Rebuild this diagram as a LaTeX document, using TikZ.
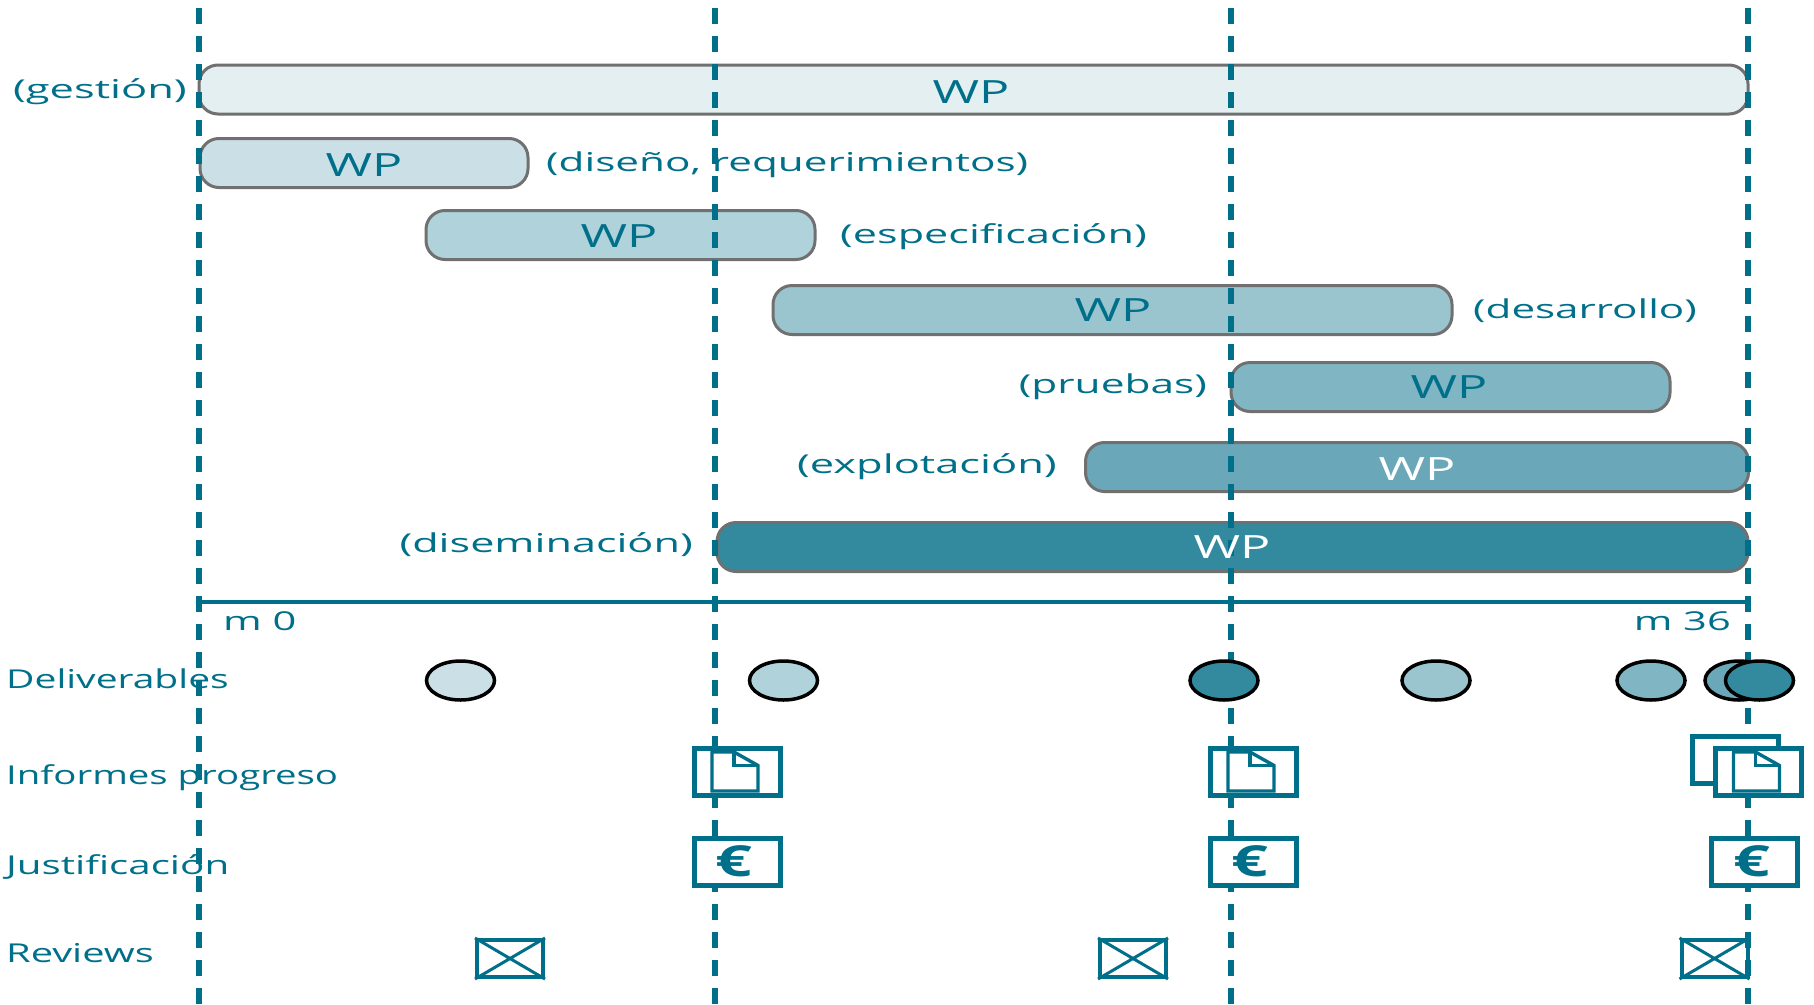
\documentclass[tikz,border=0pt]{standalone}
\usepackage{graphicx}
\usepackage{fontspec}
\usetikzlibrary{shapes.geometric}
\setmainfont{Open Sans}
\definecolor{teal1}{HTML}{00708A}
\definecolor{edgegray}{HTML}{707070}
\definecolor{barA}{HTML}{E3EFF1}
\definecolor{barB}{HTML}{CBE0E6}
\definecolor{barC}{HTML}{B0D2DA}
\definecolor{barD}{HTML}{9AC4CE}
\definecolor{barE}{HTML}{80B6C3}
\definecolor{barF}{HTML}{6AA8B9}
\definecolor{barG}{HTML}{338A9F}
\newcommand\wide[2][1.5]{\scalebox{#1}[1]{#2}}
\newcommand\wider[2][1.64]{\scalebox{#1}[1]{#2}}
\newcommand\widest[1]{\scalebox{1.57}[1]{#1}}
\tikzset{
  bar/.style={draw=edgegray,line width=3pt,rounded corners=19pt,inner sep=0pt,
    minimum height=49pt},
  wptext/.style={text=teal1,font=\fontsize{32}{32}\selectfont,inner sep=0pt},
  lab/.style={text=teal1,font=\fontsize{26}{26}\selectfont,inner sep=0pt},
  phase/.style={draw=teal1,line width=6pt,dash pattern=on 16pt off 12pt},
  deliv/.style={ellipse,draw=black,line width=3.5pt,minimum width=68pt,minimum height=39pt,inner sep=0pt},
  framebox/.style={draw=teal1,line width=5pt,fill=white,minimum width=86pt,minimum height=47pt,inner sep=0pt},
  revbox/.style={draw=teal1,line width=4pt,minimum width=66pt,minimum height=37pt,inner sep=0pt},
  docline/.style={draw=teal1,line width=3.4pt,line join=miter},
}
\newcommand\docicon[1]{%
  \draw[docline,fill=white] ([shift={(-25,19.5)}]#1.center) -- ([shift={(-25,-19.5)}]#1.center)
    -- ([shift={(-3,-19.5)}]#1.center) -- ([shift={(21,-6)}]#1.center)
    -- ([shift={(21,19.5)}]#1.center) -- cycle;
  \draw[docline] ([shift={(-3,-19.5)}]#1.center) -- ([shift={(-3,-6)}]#1.center)
    -- ([shift={(21,-6)}]#1.center);
}
\newcommand\crossicon[1]{%
  \draw[draw=teal1,line width=3pt] (#1.north west) -- (#1.south east) (#1.north east) -- (#1.south west);
}
\newcommand\euromark{\hspace*{-6pt}\scalebox{1.5}[1]{\fontsize{43}{43}\selectfont\bfseries\color{teal1}€}}
\begin{document}
\begin{tikzpicture}[x=1pt,y=-1pt]
\useasboundingbox[fill=white] (0,0) rectangle (1814,1004);
% bars
\node[bar,fill=barA,minimum width=1549pt] (b1) at (973.5,89.5) {};
\node[bar,fill=barB,minimum width=328pt] (b2) at (364,163) {};
\node[bar,fill=barC,minimum width=389pt] (b3) at (620.5,235) {};
\node[bar,fill=barD,minimum width=679pt] (b4) at (1112.5,310) {};
\node[bar,fill=barE,minimum width=439pt] (b5) at (1450.5,387) {};
\node[bar,fill=barF,minimum width=663pt] (b6) at (1417,467) {};
\node[bar,fill=barG,minimum width=1031pt] (b7) at (1232.5,547) {};
% axis
\coordinate (axL) at (199,601.5);
\coordinate (axR) at (1748,601.5);
\draw[teal1,line width=4pt] (axL) -- (axR);
% phase lines
\coordinate (p1t) at (199,8); \coordinate (p1b) at (199,1004);
\coordinate (p2t) at (715,8); \coordinate (p2b) at (715,1004);
\coordinate (p3t) at (1231,8); \coordinate (p3b) at (1231,1004);
\coordinate (p4t) at (1748,8); \coordinate (p4b) at (1748,1004);
\draw[phase] (p1t) -- (p1b);
\draw[phase] (p2t) -- (p2b);
\draw[phase] (p3t) -- (p3b);
\draw[phase] (p4t) -- (p4b);
% WP labels
\node[wptext] (w1) at (971,92) {\widest{WP}};
\node[wptext] (w2) at (364,165) {\widest{WP}};
\node[wptext] (w3) at (619,236) {\widest{WP}};
\node[wptext] (w4) at (1113,310) {\widest{WP}};
\node[wptext] (w5) at (1449,387) {\widest{WP}};
\node[wptext,text=white] (w6) at (1417,469) {\widest{WP}};
\node[wptext,text=white] (w7) at (1232,547) {\widest{WP}};
% bar captions
\node[lab,anchor=east] (c1) at (187,92) {\wider[1.67]{(gestión)}};
\node[lab,anchor=west] (c2) at (546,165) {\wider[1.625]{(diseño, requerimientos)}};
\node[lab,anchor=west] (c3) at (840,237) {\wider[1.66]{(especificación)}};
\node[lab,anchor=west] (c4) at (1473,311) {\wider[1.62]{(desarrollo)}};
\node[lab,anchor=east] (c5) at (1207,387) {\wider[1.63]{(pruebas)}};
\node[lab,anchor=east] (c6) at (1057,467) {\wider[1.67]{(explotación)}};
\node[lab,anchor=east] (c7) at (693,545) {\wider[1.66]{(diseminación)}};
\node[lab,anchor=west] (m0) at (223,621) {\wider[1.6]{m 0}};
\node[lab,anchor=east] (m36) at (1731,621) {\wider[1.6]{m 36}};
% row labels
\node[lab,anchor=west] (r1) at (6,679) {\wide{Deliverables}};
\node[lab,anchor=west] (r2) at (6,778) {\wide[1.475]{Informes progreso}};
\node[lab,anchor=west] (r3) at (6,867) {\wide[1.55]{Justificación}};
\node[lab,anchor=west] (r4) at (6,953) {\wide[1.53]{Reviews}};
% deliverables
\node[deliv,fill=barB] (d1) at (460.5,680.5) {};
\node[deliv,fill=barC] (d2) at (783.5,680.5) {};
\node[deliv,fill=barG] (d3) at (1224,680.5) {};
\node[deliv,fill=barD] (d4) at (1436,680.5) {};
\node[deliv,fill=barE] (d5) at (1651,680.5) {};
\node[deliv,fill=barF] (d6) at (1739,680.5) {};
\node[deliv,fill=barG] (d7) at (1759.5,680.5) {};
% progress reports
\node[framebox] (i1) at (737,771.5) {};
\node[framebox] (i2) at (1253,771.5) {};
\node[framebox] (i3) at (1735,760) {};
\node[framebox] (i4) at (1758.5,771.5) {};
\docicon{i1}
\docicon{i2}
\docicon{i4}
% justification
\node[framebox] (e1) at (737,861.5) {\euromark};
\node[framebox] (e2) at (1253,861.5) {\euromark};
\node[framebox] (e3) at (1754.5,861.5) {\euromark};
% reviews
\node[revbox] (v1) at (510,958.5) {};
\node[revbox] (v2) at (1133,958.5) {};
\node[revbox] (v3) at (1714.5,958.5) {};
\crossicon{v1}
\crossicon{v2}
\crossicon{v3}
\end{tikzpicture}
\end{document}
